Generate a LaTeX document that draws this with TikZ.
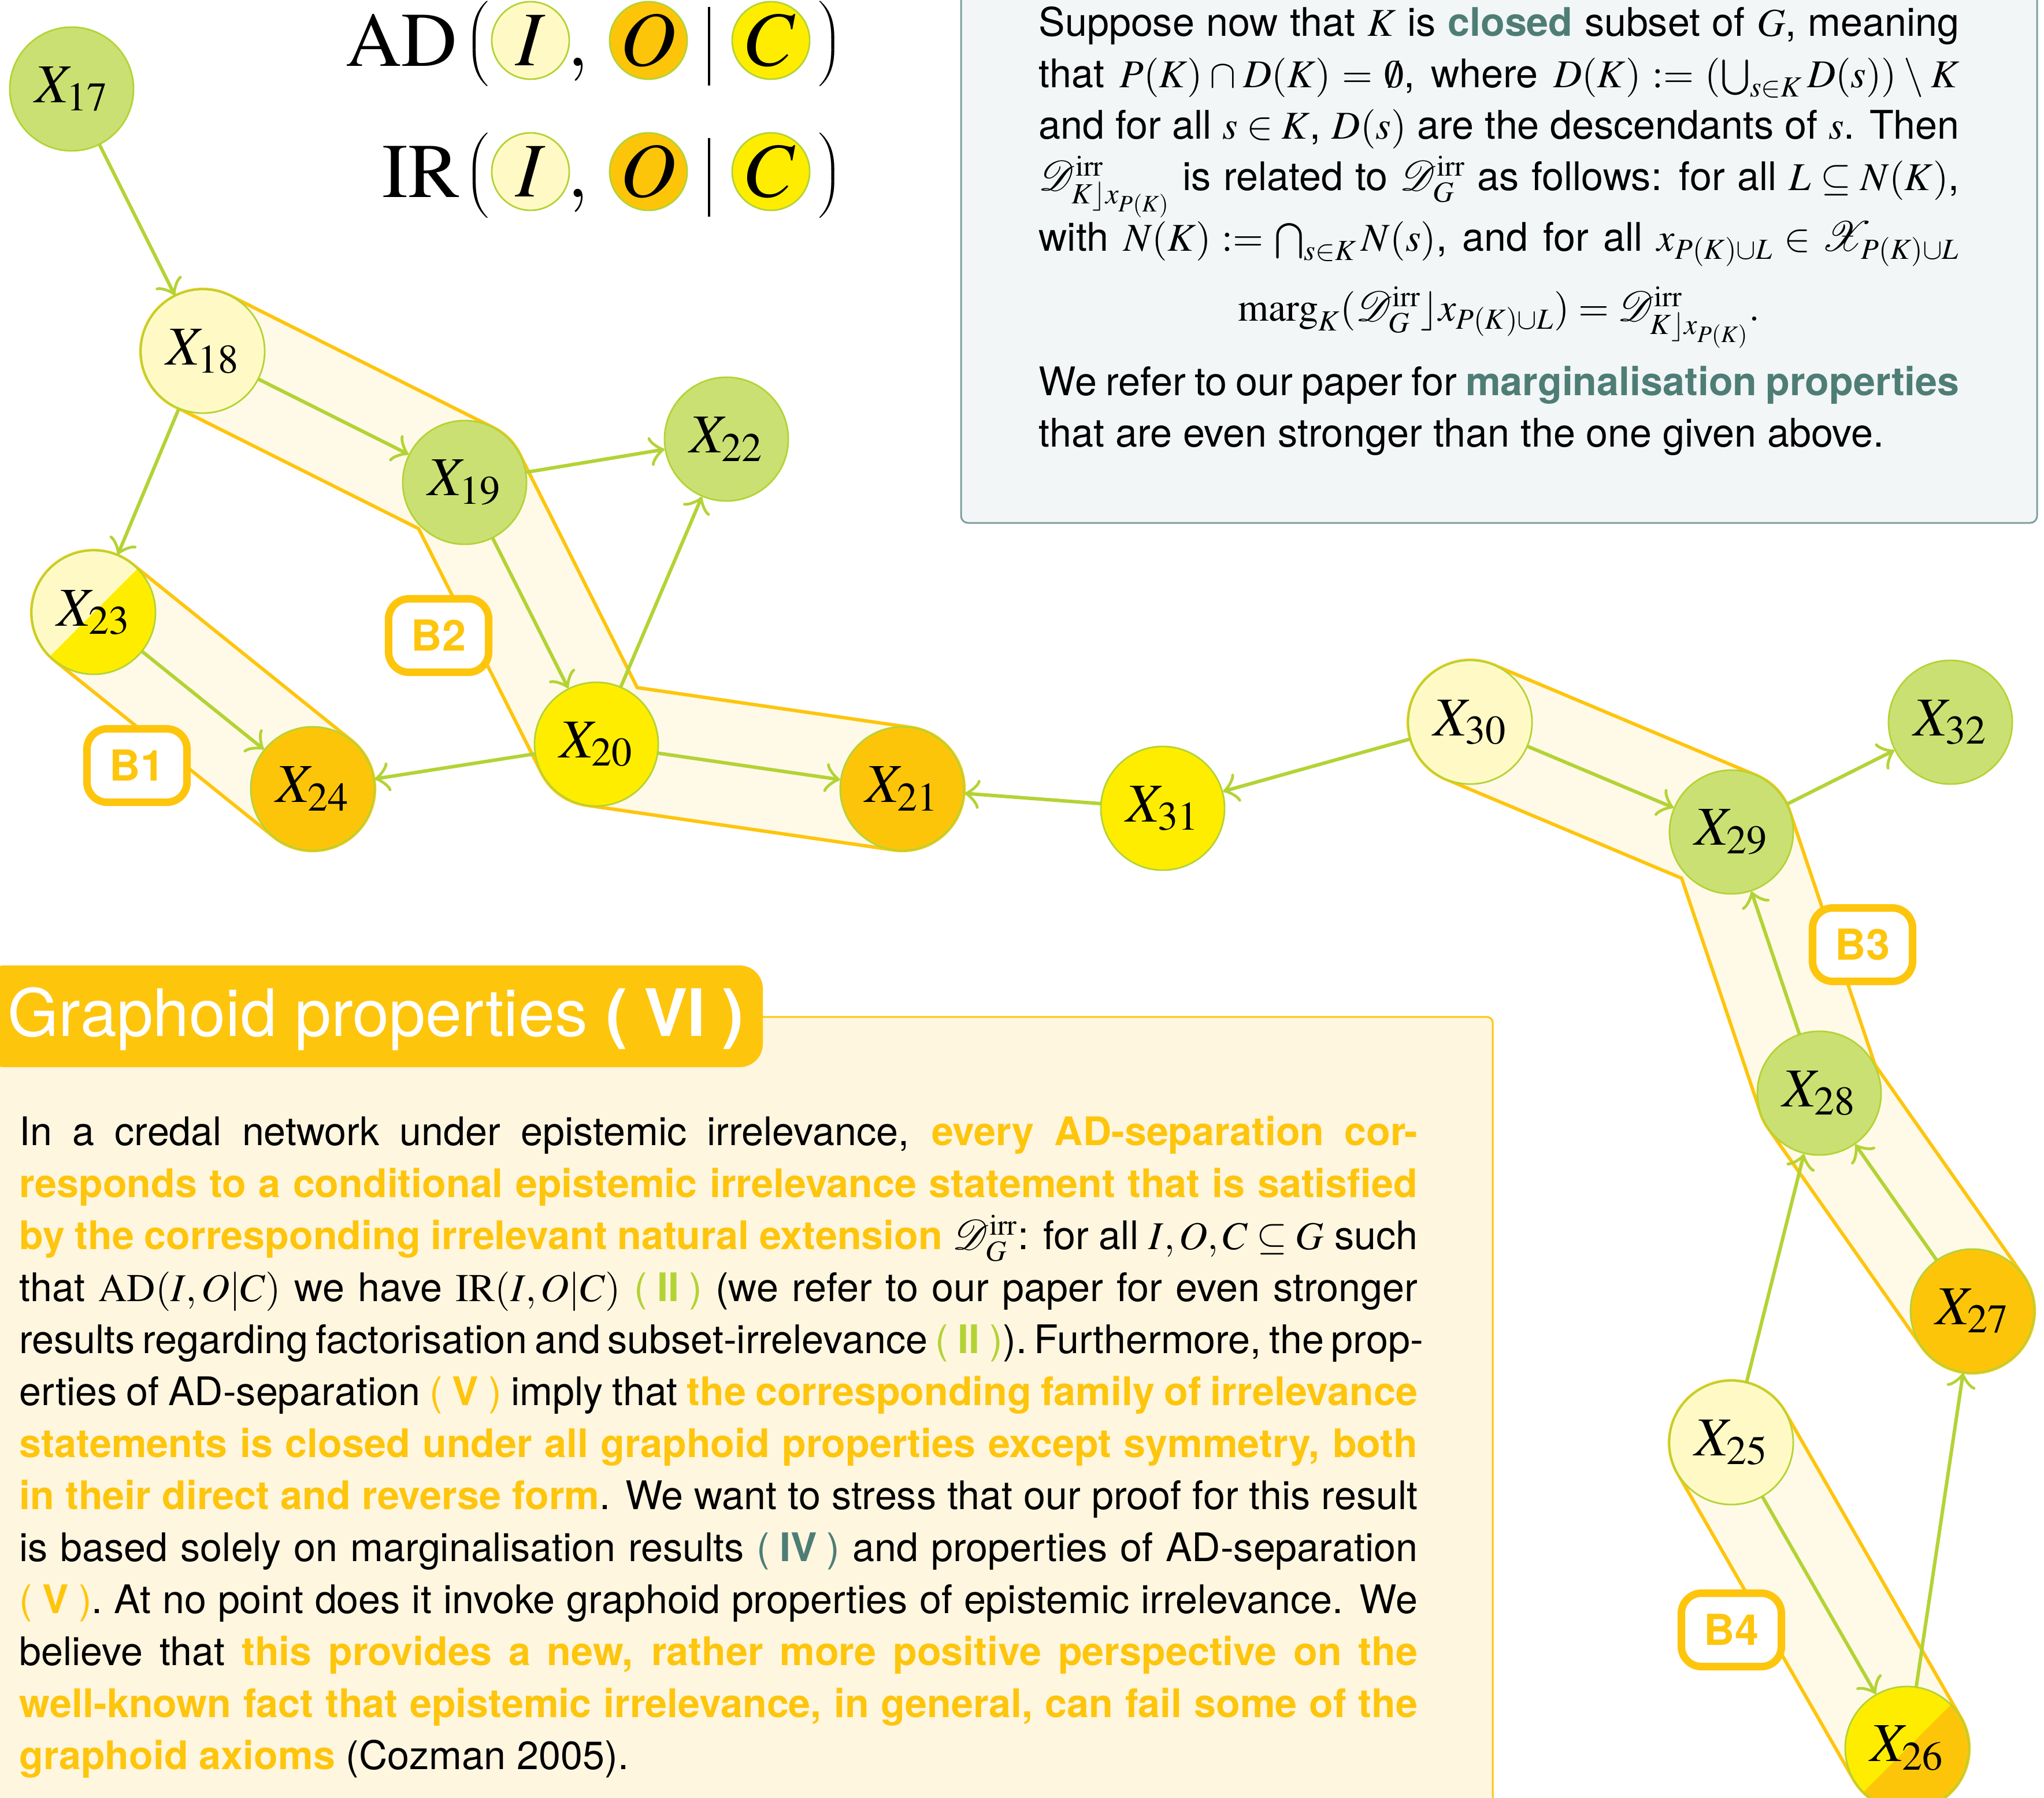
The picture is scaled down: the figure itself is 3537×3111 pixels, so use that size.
\documentclass[tikz,border=0pt]{standalone}
\usepackage{graphicx}
\usepackage{mathptmx}
\usepackage{mathrsfs}
\usepackage[no-math]{fontspec}
\setmainfont{TeX Gyre Heros}
\usetikzlibrary{arrows.meta}
\definecolor{oy}{HTML}{FEC50D}
\definecolor{gfill}{HTML}{CBE072}
\definecolor{gline}{HTML}{B3D335}
\definecolor{lyel}{HTML}{FFFAC5}
\definecolor{yel}{HTML}{FFED00}
\definecolor{ora}{HTML}{FCC50A}
\definecolor{bandf}{HTML}{FFF9E8}
\definecolor{boxf}{HTML}{FFF6E0}
\definecolor{tbf}{HTML}{F2F6F7}
\definecolor{tbl}{HTML}{7F9F9E}
\definecolor{tealx}{HTML}{4E7D75}
\newcommand\hlt[1]{{\bfseries\color{oy}#1}}
\newcommand\tlt[1]{{\bfseries\color{tealx}#1}}
\newcommand\refII{{\color{gline}(\kern.25em\textbf{II}\kern.25em)}}
\newcommand\refV{{\color{oy}(\kern.25em\textbf{V}\kern.25em)}}
\newcommand\refIV{{\color{tealx}(\kern.25em\textbf{IV}\kern.25em)}}
\newcommand\Dirr{\mathscr{D}^{\mathrm{irr}}}
\newcommand\bigL{\scalebox{1.35}[1]{$\left(\vrule height 0.70cm depth 0.70cm width 0pt\right.$}}
\newcommand\bigR{\scalebox{1.35}[1]{$\left.\vrule height 0.70cm depth 0.70cm width 0pt\right)$}}
\newcommand\bigbar{\rule{0.045cm}{1.36cm}}
\pgfdeclarelayer{bands}
\pgfsetlayers{bands,main}
\begin{document}
\begin{tikzpicture}[x=0.01cm,y=-0.01cm,
  xn/.style={circle, draw=gline, line width=0.028cm, minimum size=2.14cm, inner sep=0pt, font=\fontsize{27}{32}\selectfont},
  fc/.style={circle, draw=gline, line width=0.028cm, minimum size=1.34cm, inner sep=0pt, font=\fontsize{38}{46}\selectfont},
  big/.style={inner sep=0pt, font=\fontsize{38}{46}\selectfont},
  delim/.style={inner sep=0pt, font=\normalsize},
  arr/.style={draw=gline, line width=0.06cm, line cap=round, -{Classical TikZ Rightarrow[length=0.26cm,width=0.5cm,round]}},
  bandout/.style={draw=oy, line width=2.20cm, line join=round, line cap=round},
  bandin/.style={draw=bandf, line width=2.08cm, line join=round, line cap=round},
  blab/.style={rectangle, rounded corners=0.35cm, draw=oy, fill=white, line width=0.13cm, minimum width=1.73cm, minimum height=1.27cm, inner sep=0pt, text=oy, font=\fontsize{21}{25}\selectfont\bfseries},
  split/.style={path picture={\fill[#1] (path picture bounding box.north west) -- (path picture bounding box.north east) -- (path picture bounding box.south west) -- cycle;}}
]
\useasboundingbox (0,0) rectangle (3537,3111);
\clip (0,0) rectangle (3537,3111);

% ---------- top right box ----------
\draw[draw=tbl, fill=tbf, line width=0.03cm, rounded corners=0.12cm] (1663,-40) rectangle (3525,905);
\node[anchor=base west, inner sep=0pt] (tbtext) at (1797,62) {\begin{minipage}[t]{15.92cm}\fontsize{19.4}{25.3}\selectfont\baselineskip=0.89cm\lineskiplimit=-100pt
\hbox to\linewidth{Suppose now that $K$ is \tlt{closed} subset of $G$, meaning}
\hbox to\linewidth{that $P(K)\cap D(K)=\emptyset$, where $D(K):=(\bigcup_{s\in K}D(s))\setminus K$}
\hbox to\linewidth{and for all $s\in K$, $D(s)$ are the descendants of $s$. Then}
\hbox to\linewidth{$\Dirr_{K\rfloor x_{P(K)}}$ is related to $\Dirr_{G}$ as follows: for all $L\subseteq N(K)$,}
\vskip0.16cm
\hbox to\linewidth{with $N(K):=\bigcap_{s\in K}N(s)$, and for all $x_{P(K)\cup L}\in\mathscr{X}_{P(K)\cup L}$}
\vskip0.32cm
\hbox to\linewidth{\hfil$\mathrm{marg}_K(\Dirr_G\rfloor x_{P(K)\cup L})=\Dirr_{K\rfloor x_{P(K)}}.$\hfil}
\vskip0.40cm
\hbox to\linewidth{We refer to our paper for \tlt{marginalisation properties}}
\hbox{that are even stronger than the one given above.}
\end{minipage}};

% ---------- graphoid box ----------
\draw[draw=oy, fill=boxf, line width=0.03cm, rounded corners=0.1cm] (-40,1760) rectangle (2583,3250);
\fill[oy, rounded corners=0.4cm] (-32,1671) rectangle (1320,1847);
\node[anchor=base west, inner sep=0pt, text=white, font=\fontsize{32.2}{38}\selectfont] (gtitle) at (13,1793) {Graphoid properties \textbf{(\kern.25em VI\kern.25em)}};
\node[anchor=base west, inner sep=0pt] (gtext) at (33,1982) {\begin{minipage}[t]{24.18cm}\fontsize{19.4}{25.6}\selectfont\baselineskip=0.9cm\lineskiplimit=-100pt
\hbox to\linewidth{In a credal network under epistemic irrelevance, \hlt{every AD-separation cor-}}
\hbox to\linewidth{\hlt{responds to a conditional epistemic irrelevance statement that is satisfied}}
\hbox to\linewidth{\hlt{by the corresponding irrelevant natural extension} $\Dirr_G$: for all $I,O,C\subseteq G$ such}
\hbox to\linewidth{that $\mathrm{AD}(I,O|C)$ we have $\mathrm{IR}(I,O|C)$ \refII{} (we refer to our paper for even stronger}
\hbox to\linewidth{results regarding factorisation and subset-irrelevance \refII{}). Furthermore, the prop-}
\hbox to\linewidth{erties of AD-separation \refV{} imply that \hlt{the corresponding family of irrelevance}}
\hbox to\linewidth{\hlt{statements is closed under all graphoid properties except symmetry, both}}
\hbox to\linewidth{\hlt{in their direct and reverse form}. We want to stress that our proof for this result}
\hbox to\linewidth{is based solely on marginalisation results \refIV{} and properties of AD-separation}
\hbox to\linewidth{\refV{}. At no point does it invoke graphoid properties of epistemic irrelevance. We}
\hbox to\linewidth{believe that \hlt{this provides a new, rather more positive perspective on the}}
\hbox to\linewidth{\hlt{well-known fact that epistemic irrelevance, in general, can fail some of the}}
\hbox{\hlt{graphoid axioms} (Cozman 2005).}
\end{minipage}};

% ---------- formula ----------
\node[big, anchor=base east] (ad) at (792,114) {$\mathrm{AD}$};
\node[delim] (adl) at (828,78) {\bigL};
\node[fc, fill=lyel] (adI) at (918,70) {$I$};
\node[big, anchor=base] (adcm) at (1000,114) {$,$};
\node[fc, fill=ora] (adO) at (1122,70) {$O$};
\node[delim] (adbar) at (1227,80) {\bigbar};
\node[fc, fill=yel] (adC) at (1334,70) {$C$};
\node[delim] (adr) at (1434,78) {\bigR};

\node[big, anchor=base east] (ir) at (796,341) {$\mathrm{IR}$};
\node[delim] (irl) at (828,306) {\bigL};
\node[fc, fill=lyel] (irI) at (918,297) {$I$};
\node[big, anchor=base] (ircm) at (1000,341) {$,$};
\node[fc, fill=ora] (irO) at (1122,297) {$O$};
\node[delim] (irbar) at (1227,307) {\bigbar};
\node[fc, fill=yel] (irC) at (1334,297) {$C$};
\node[delim] (irr) at (1434,306) {\bigR};

% ---------- nodes ----------
\node[xn, fill=gfill] (X17) at (124,154) {$X_{17}$};
\node[xn, fill=lyel] (X18) at (351,608) {$X_{18}$};
\node[xn, fill=gfill] (X19) at (804,835) {$X_{19}$};
\node[xn, fill=gfill] (X22) at (1257,760) {$X_{22}$};
\node[xn, fill=yel, split=lyel] (X23) at (162,1060) {$X_{23}$};
\node[xn, fill=ora] (X24) at (541,1365) {$X_{24}$};
\node[xn, fill=yel] (X20) at (1032,1288) {$X_{20}$};
\node[xn, fill=ora] (X21) at (1561,1365) {$X_{21}$};
\node[xn, fill=yel] (X31) at (2012,1399) {$X_{31}$};
\node[xn, fill=lyel] (X30) at (2544,1250) {$X_{30}$};
\node[xn, fill=gfill] (X29) at (2996,1440) {$X_{29}$};
\node[xn, fill=gfill] (X32) at (3375,1250) {$X_{32}$};
\node[xn, fill=gfill] (X28) at (3148,1892) {$X_{28}$};
\node[xn, fill=ora] (X27) at (3413,2269) {$X_{27}$};
\node[xn, fill=lyel] (X25) at (2996,2497) {$X_{25}$};
\node[xn, fill=ora, split=yel] (X26) at (3300,3026) {$X_{26}$};

% ---------- bands ----------
\begin{pgfonlayer}{bands}
\draw[bandout] (X23.center) -- (X24.center);
\draw[bandin] (X23.center) -- (X24.center);
\draw[bandout] (X18.center) -- (X19.center) -- (X20.center) -- (X21.center);
\draw[bandin] (X18.center) -- (X19.center) -- (X20.center) -- (X21.center);
\draw[bandout] (X30.center) -- (X29.center) -- (X28.center) -- (X27.center);
\draw[bandin] (X30.center) -- (X29.center) -- (X28.center) -- (X27.center);
\draw[bandout] (X25.center) -- (X26.center);
\draw[bandin] (X25.center) -- (X26.center);
\end{pgfonlayer}

% ---------- arrows ----------
\draw[arr] (X17) -- (X18);
\draw[arr] (X18) -- (X19);
\draw[arr] (X18) -- (X23);
\draw[arr] (X19) -- (X22);
\draw[arr] (X19) -- (X20);
\draw[arr] (X20) -- (X22);
\draw[arr] (X20) -- (X24);
\draw[arr] (X20) -- (X21);
\draw[arr] (X23) -- (X24);
\draw[arr] (X31) -- (X21);
\draw[arr] (X30) -- (X31);
\draw[arr] (X30) -- (X29);
\draw[arr] (X29) -- (X32);
\draw[arr] (X28) -- (X29);
\draw[arr] (X27) -- (X28);
\draw[arr] (X25) -- (X28);
\draw[arr] (X25) -- (X26);
\draw[arr] (X26) -- (X27);

% ---------- block labels ----------
\node[blab] (B1) at (237,1325) {B1};
\node[blab] (B2) at (759,1100) {B2};
\node[blab] (B3) at (3223,1635) {B3};
\node[blab] (B4) at (2996,2821) {B4};
\end{tikzpicture}
\end{document}
